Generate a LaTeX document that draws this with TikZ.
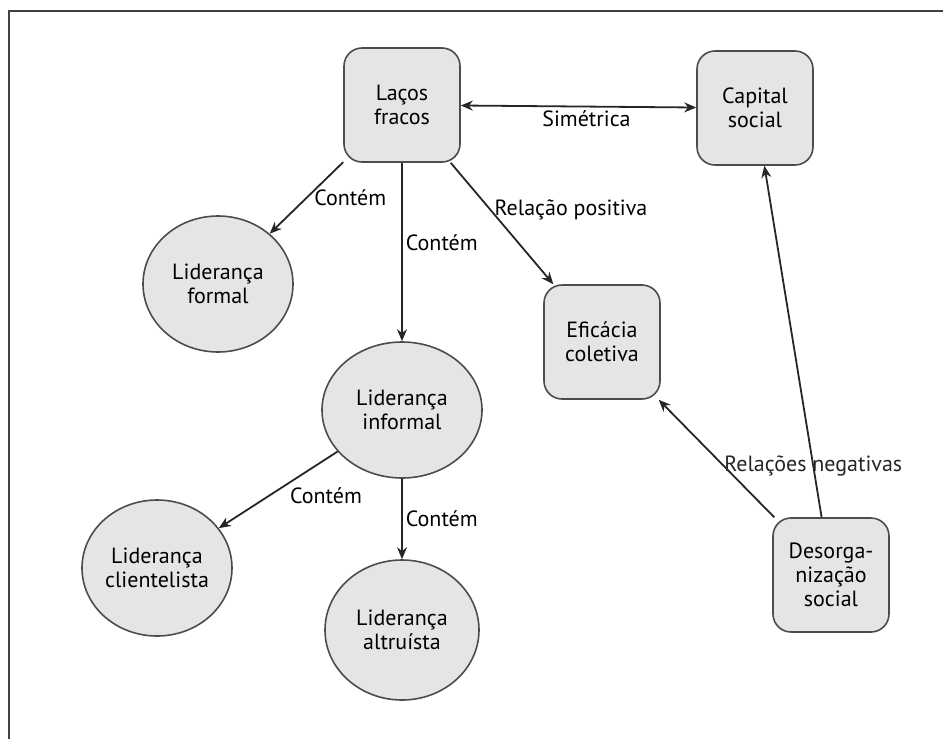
\documentclass[tikz,border=0pt]{standalone}
\usepackage{fontspec}
\setmainfont{PT Sans}
\usetikzlibrary{arrows.meta,positioning,shapes.geometric}

\begin{document}
\begin{tikzpicture}[
  x=1pt, y=-1pt,
  font=\fontsize{22}{24}\selectfont,
  >={Stealth[length=12pt, width=10pt]},
  conc/.style={rectangle, rounded corners=18pt, draw=black!70, line width=1.6pt, fill=gray!20, minimum width=116pt, minimum height=114pt, align=center},
  lid/.style={ellipse, draw=black!70, line width=1.6pt, fill=gray!20, minimum width=150pt, minimum height=136pt, align=center, inner sep=0pt},
  arr/.style={->, line width=1.8pt, black!85},
  arrb/.style={<->, line width=1.8pt, black!85},
  lbl/.style={inner sep=3pt, text=black}
]
  \useasboundingbox (0,0) rectangle (943,739);
  \draw[black!75, line width=1.5pt] (9,739) -- (9,11) -- (943,11);

  \node[conc] (lacos) at (402,105) {Laços\\fracos};
  \node[conc] (capital) at (755,108) {Capital\\social};
  \node[conc] (eficacia) at (602,342) {Eficácia\\coletiva};
  \node[conc] (desorg) at (831,575) {Desorga-\\nização\\social};

  \node[lid] (formal) at (218,284) {Liderança\\formal};
  \node[lid, minimum width=160pt] (informal) at (402,410) {Liderança\\informal};
  \node[lid] (cliente) at (157,568) {Liderança\\clientelista};
  \node[lid, minimum width=154pt, minimum height=140pt] (altruista) at (402,630) {Liderança\\altruísta};

  \draw[arrb] (lacos) -- node[midway, below, lbl, xshift=8pt]{Simétrica} (capital);
  \draw[arr] (lacos) -- node[midway, right, lbl, xshift=4pt]{Contém} (formal);
  \draw[arr] (lacos) -- node[pos=0.45, right, lbl]{Contém} (informal);
  \draw[arr] (lacos) -- node[pos=0.39, right, lbl]{Relação positiva} (eficacia);

  \draw[arr] (informal) -- node[midway, right, lbl, xshift=8pt, yshift=-6pt]{Contém} (cliente);
  \draw[arr] (informal) -- node[midway, right, lbl]{Contém} (altruista);

  \draw[arr] (desorg) -- node[pos=0.44, right, inner sep=0pt]{Relações negativas} (eficacia);
  \draw[arr] (desorg) -- (capital);
\end{tikzpicture}
\end{document}
